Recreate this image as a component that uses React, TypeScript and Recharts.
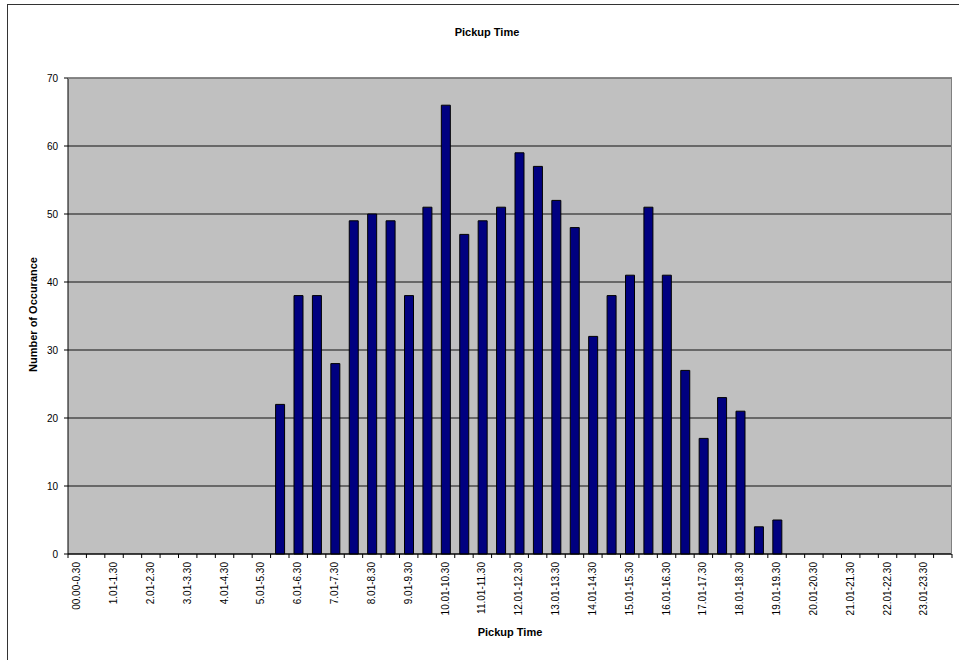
import { FC } from 'react';
import { BarChart, Bar, XAxis, YAxis, CartesianGrid } from 'recharts';

const timeSlots = [
  '00.00-0.30', '0.31-1.00', '1.01-1.30', '1.31-2.00', '2.01-2.30', '2.31-3.00',
  '3.01-3.30', '3.31-4.00', '4.01-4.30', '4.31-5.00', '5.01-5.30', '5.31-6.00',
  '6.01-6.30', '6.31-7.00', '7.01-7.30', '7.31-8.00', '8.01-8.30', '8.31-9.00',
  '9.01-9.30', '9.31-10.00', '10.01-10.30', '10.31-11.00', '11.01-11.30', '11.31-12.00',
  '12.01-12.30', '12.31-13.00', '13.01-13.30', '13.31-14.00', '14.01-14.30', '14.31-15.00',
  '15.01-15.30', '15.31-16.00', '16.01-16.30', '16.31-17.00', '17.01-17.30', '17.31-18.00',
  '18.01-18.30', '18.31-19.00', '19.01-19.30', '19.31-20.00', '20.01-20.30', '20.31-21.00',
  '21.01-21.30', '21.31-22.00', '22.01-22.30', '22.31-23.00', '23.01-23.30', '23.31-24.00',
];

const occurrences = [
  0, 0, 0, 0, 0, 0, 0, 0, 0, 0, 0, 22,
  38, 38, 28, 49, 50, 49, 38, 51, 66, 47, 49, 51,
  59, 57, 52, 48, 32, 38, 41, 51, 41, 27, 17, 23,
  21, 4, 5, 0, 0, 0, 0, 0, 0, 0, 0, 0,
];

const yTicks = [0, 10, 20, 30, 40, 50, 60, 70];

const data = timeSlots.map((slot, i) => ({ slot, count: occurrences[i] }));

const W = 959;
const H = 660;
const PLOT_LEFT = 68;
const PLOT_RIGHT = 952;
const PLOT_TOP = 78;
const PLOT_BOTTOM = 554;
const BAND = (PLOT_RIGHT - PLOT_LEFT) / timeSlots.length;
const FONT = '"Liberation Sans", Arial, sans-serif';

const SlotTick: FC<any> = ({ x, y, index, payload }) => {
  const left = x - BAND / 2;
  const isLast = index === timeSlots.length - 1;
  return (
    <g>
      <line x1={left} y1={y} x2={left} y2={y + 4} stroke="#000" />
      {isLast && <line x1={x + BAND / 2} y1={y} x2={x + BAND / 2} y2={y + 4} stroke="#000" />}
      {index % 2 === 0 && (
        <text
          x={x + 3}
          y={y + 8}
          transform={`rotate(-90, ${x + 3}, ${y + 8})`}
          textAnchor="end"
          fontSize={10}
          fontFamily={FONT}
          fill="#000"
        >
          {payload.value}
        </text>
      )}
    </g>
  );
};

const titleStyle = {
  position: 'absolute',
  fontFamily: FONT,
  fontSize: 11,
  fontWeight: 'bold',
  lineHeight: '13px',
  width: 300,
  textAlign: 'center',
  color: '#000',
} as const;

const App: FC = () => (
  <div style={{ position: 'absolute', left: 0, top: 0, width: W, height: H, overflow: 'hidden', background: '#fff' }}>
    <div style={{ position: 'absolute', left: 7, top: 4, width: 1000, height: 700, border: '1px solid #333' }} />
    <BarChart
      width={W}
      height={H}
      data={data}
      margin={{ top: PLOT_TOP, right: W - PLOT_RIGHT, bottom: 0, left: 0 }}
      style={{ position: 'absolute', left: 0, top: 0 }}
    >
      <CartesianGrid vertical={false} stroke="#111" fill="#c0c0c0" fillOpacity={1} />
      <XAxis
        dataKey="slot"
        height={H - PLOT_BOTTOM}
        interval={0}
        tickLine={false}
        tickSize={0}
        tickMargin={0}
        axisLine={{ stroke: '#000' }}
        tick={<SlotTick />}
      />
      <YAxis
        width={PLOT_LEFT}
        domain={[0, 70]}
        ticks={yTicks}
        tickSize={4}
        tickMargin={6}
        axisLine={{ stroke: '#000' }}
        tickLine={{ stroke: '#000' }}
        tick={{ fontSize: 10, fontFamily: FONT, fill: '#000' }}
      />
      <Bar dataKey="count" fill="#000080" stroke="#000" strokeWidth={1} barSize={9} isAnimationActive={false} />
    </BarChart>
    <div
      style={{
        position: 'absolute',
        left: PLOT_LEFT,
        top: PLOT_TOP,
        width: PLOT_RIGHT - PLOT_LEFT,
        height: PLOT_BOTTOM - PLOT_TOP,
        borderTop: '1px solid #808080',
        borderRight: '1px solid #808080',
        boxSizing: 'border-box',
        pointerEvents: 'none',
      }}
    />
    <div style={{ ...titleStyle, left: 487 - 150, top: 33 - 7 }}>Pickup Time</div>
    <div style={{ ...titleStyle, left: 510 - 150, top: 633 - 7 }}>Pickup Time</div>
    <div style={{ ...titleStyle, left: 33 - 150, top: 315 - 7, transform: 'rotate(-90deg)' }}>Number of Occurance</div>
  </div>
);

export default App;
